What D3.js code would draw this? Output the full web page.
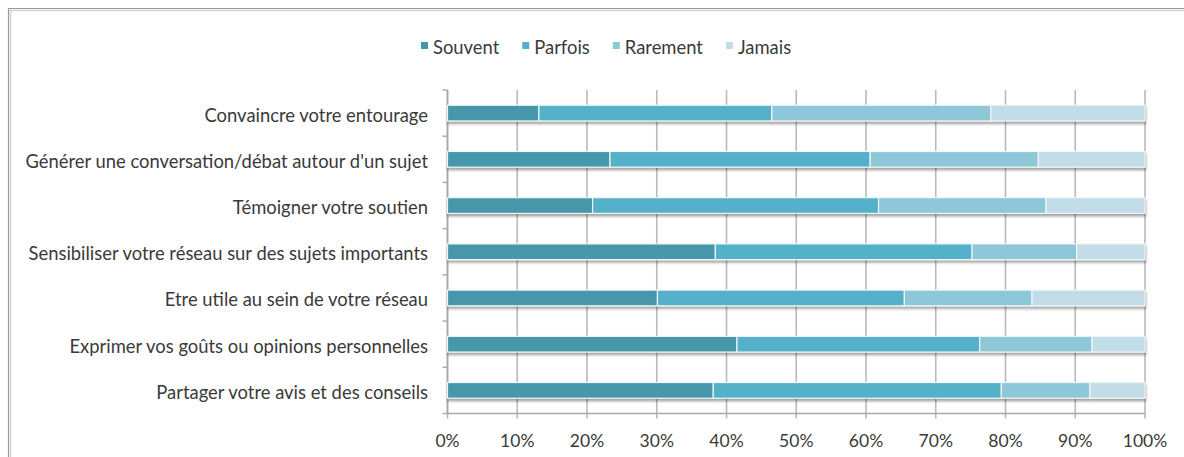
<!DOCTYPE html>
<html>
<head>
<meta charset="utf-8">
<script src="https://cdn.jsdelivr.net/npm/d3@7"></script>
<style>
  html, body { margin: 0; padding: 0; background: #fff; }
  svg { display: block; }
  text { font-family: Lato, "Open Sans", sans-serif; fill: #3a3a3a; }
</style>
</head>
<body>
<svg id="chart" width="1184" height="457"></svg>
<script>
// Survey answers, in percent of respondents
const categories = [
  "Convaincre votre entourage",
  "Générer une conversation/débat autour d'un sujet",
  "Témoigner votre soutien",
  "Sensibiliser votre réseau sur des sujets importants",
  "Etre utile au sein de votre réseau",
  "Exprimer vos goûts ou opinions personnelles",
  "Partager votre avis et des conseils"
];
const seriesNames = ["Souvent", "Parfois", "Rarement", "Jamais"];
const souvent  = [13.1, 23.3, 20.8, 38.4, 30.1, 41.5, 38.1];
const parfois  = [33.4, 37.3, 41.0, 36.8, 35.4, 34.8, 41.3];
const rarement = [31.4, 24.1, 24.0, 15.0, 18.3, 16.1, 12.7];
const jamais   = [22.1, 15.3, 14.2,  9.8, 16.2,  7.6,  7.9];
const xTicks = [0, 10, 20, 30, 40, 50, 60, 70, 80, 90, 100];
const seriesColors = ["#4597a9", "#55b1c9", "#8ec7d8", "#c2dde8"];

const rows = categories.map((c, i) => ({
  category: c,
  Souvent: souvent[i], Parfois: parfois[i], Rarement: rarement[i], Jamais: jamais[i]
}));

const svg = d3.select("#chart");

// outer frame
svg.append("path").attr("d", "M10.5,1200 V10.5 H1200")
  .attr("fill", "none").attr("stroke", "#d2d2d2").attr("stroke-width", 1.5);
svg.append("path").attr("d", "M8.5,1200 V8.5 H1200")
  .attr("fill", "none").attr("stroke", "#9a9a9a").attr("stroke-width", 1.2);

const defs = svg.append("defs");
const f = defs.append("filter").attr("id", "shadow")
  .attr("x", "-5%").attr("y", "-50%").attr("width", "110%").attr("height", "220%");
f.append("feDropShadow").attr("dx", 0.5).attr("dy", 2.5).attr("stdDeviation", 1)
  .attr("flood-color", "#000").attr("flood-opacity", 0.35);

const x = d3.scaleLinear().domain([0, 100]).range([447.5, 1145]);
const y = d3.scaleBand().domain(categories).range([90, 413.5])
  .paddingInner(0.66).paddingOuter(0.33);

// vertical gridlines
svg.append("g").selectAll("line").data(xTicks).join("line")
  .attr("x1", d => x(d)).attr("x2", d => x(d))
  .attr("y1", 90).attr("y2", 418.5)
  .attr("stroke", "#b9b9b9").attr("stroke-width", 1.6);

// category axis
const yAxis = svg.append("g");
yAxis.append("line").attr("x1", x(0)).attr("x2", x(0)).attr("y1", 90).attr("y2", 413.5)
  .attr("stroke", "#a8a8a8").attr("stroke-width", 1.6);
const step = y.step();
const bounds = d3.range(categories.length + 1).map(i => 90 + i * step);
yAxis.selectAll("line.tk").data(bounds).join("line").attr("class", "tk")
  .attr("x1", x(0) - 5).attr("x2", x(0)).attr("y1", d => d).attr("y2", d => d)
  .attr("stroke", "#a8a8a8").attr("stroke-width", 1.4);
yAxis.selectAll("text").data(categories).join("text")
  .attr("x", 428).attr("y", d => y(d) + y.bandwidth() / 2 + 1.5)
  .attr("text-anchor", "end").attr("dominant-baseline", "central")
  .style("font-size", "18.4px").text(d => d);

// value axis
const xAxis = svg.append("g");
xAxis.append("line").attr("x1", x(0)).attr("x2", x(100)).attr("y1", 413.5).attr("y2", 413.5)
  .attr("stroke", "#a8a8a8").attr("stroke-width", 1.6);
xAxis.selectAll("text").data(xTicks).join("text")
  .attr("x", d => x(d)).attr("y", 440.5)
  .attr("text-anchor", "middle").attr("dominant-baseline", "central")
  .style("font-size", "17.5px").text(d => d + "%");

// stacked bars
const stack = d3.stack().keys(seriesNames)(rows);
const barG = svg.append("g");
const rowG = barG.selectAll("g").data(categories).join("g")
  .attr("filter", "url(#shadow)");
rowG.selectAll("rect").data((c, i) => stack.map((s, k) => ({ s: s[i], k })))
  .join("rect")
  .attr("x", d => x(d.s[0])).attr("width", d => x(d.s[1]) - x(d.s[0]))
  .attr("y", d => y(d.s.data.category)).attr("height", y.bandwidth())
  .attr("fill", d => seriesColors[d.k])
  .attr("stroke", "#eef6f8").attr("stroke-width", 1.2);

// legend
const legend = svg.append("g");
let lx = 421;
seriesNames.forEach((name, k) => {
  legend.append("rect").attr("x", lx).attr("y", 42).attr("width", 7).attr("height", 7)
    .attr("fill", seriesColors[k]);
  const t = legend.append("text").attr("x", lx + 12).attr("y", 47)
    .attr("dominant-baseline", "central").style("font-size", "18.4px").text(name);
  lx += 12 + t.node().getComputedTextLength() + 23;
});
</script>
</body>
</html>
